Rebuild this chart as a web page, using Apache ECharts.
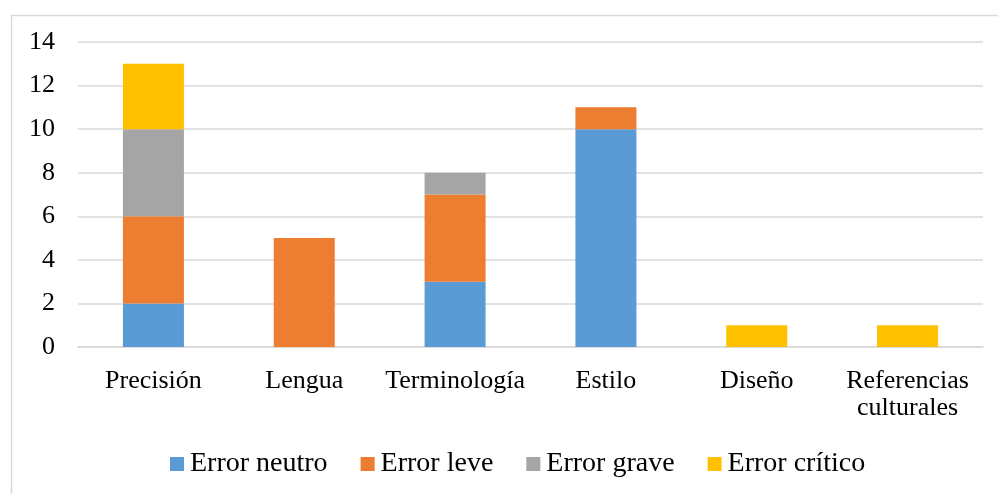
<!DOCTYPE html>
<html>
<head>
<meta charset="utf-8">
<script src="https://cdn.jsdelivr.net/npm/echarts@6/dist/echarts.min.js"></script>
<style>
html,body{margin:0;padding:0;background:#fff;}
#c{width:998px;height:494px;}
</style>
</head>
<body>
<div id="c"></div>
<script>
const categories = ['Precisión', 'Lengua', 'Terminología', 'Estilo', 'Diseño', 'Referencias culturales'];
const seriesNames = ['Error neutro', 'Error leve', 'Error grave', 'Error crítico'];
const errorNeutro = [2, 0, 3, 10, 0, 0];
const errorLeve = [4, 5, 4, 1, 0, 0];
const errorGrave = [4, 0, 1, 0, 0, 0];
const errorCritico = [3, 0, 0, 0, 1, 1];
const yTicks = [0, 2, 4, 6, 8, 10, 12, 14];
const colors = ['#5B9BD5', '#ED7D31', '#A5A5A5', '#FFC000'];

const font = '"Liberation Serif", "Times New Roman", serif';
const chart = echarts.init(document.getElementById('c'), null, {renderer: 'canvas'});
const values = [errorNeutro, errorLeve, errorGrave, errorCritico];
chart.setOption({
  animation: false,
  graphic: [{
    type: 'rect', left: 9, top: 13, silent: true,
    shape: {x: 0, y: 0, width: 1000, height: 500},
    style: {fill: 'none', stroke: '#d9d9d9', lineWidth: 1.5}
  }],
  grid: {left: 78, right: 15, top: 42, bottom: 147, containLabel: false},
  legend: {
    bottom: 11, left: 165,
    itemWidth: 14, itemHeight: 14, itemGap: 33,
    icon: 'rect',
    textStyle: {fontFamily: font, fontSize: 28, color: '#000', padding: [0, 0, 0, 1]},
    data: seriesNames
  },
  xAxis: {
    type: 'category',
    data: categories,
    axisTick: {show: false},
    axisLine: {lineStyle: {color: '#d9d9d9', width: 1.5}},
    axisLabel: {
      fontFamily: font, fontSize: 26, color: '#000', margin: 21, lineHeight: 27,
      interval: 0,
      formatter: v => v.replace(' ', '\n')
    }
  },
  yAxis: {
    type: 'value',
    min: yTicks[0], max: yTicks[yTicks.length - 1], interval: 2,
    axisLine: {show: false}, axisTick: {show: false},
    splitLine: {lineStyle: {color: '#d9d9d9', width: 1.5}},
    axisLabel: {fontFamily: font, fontSize: 26, color: '#000', margin: 23}
  },
  series: seriesNames.map((n, i) => ({
    name: n, type: 'bar', stack: 'total', barWidth: 61,
    itemStyle: {color: colors[i]},
    data: values[i]
  }))
});
</script>
</body>
</html>
